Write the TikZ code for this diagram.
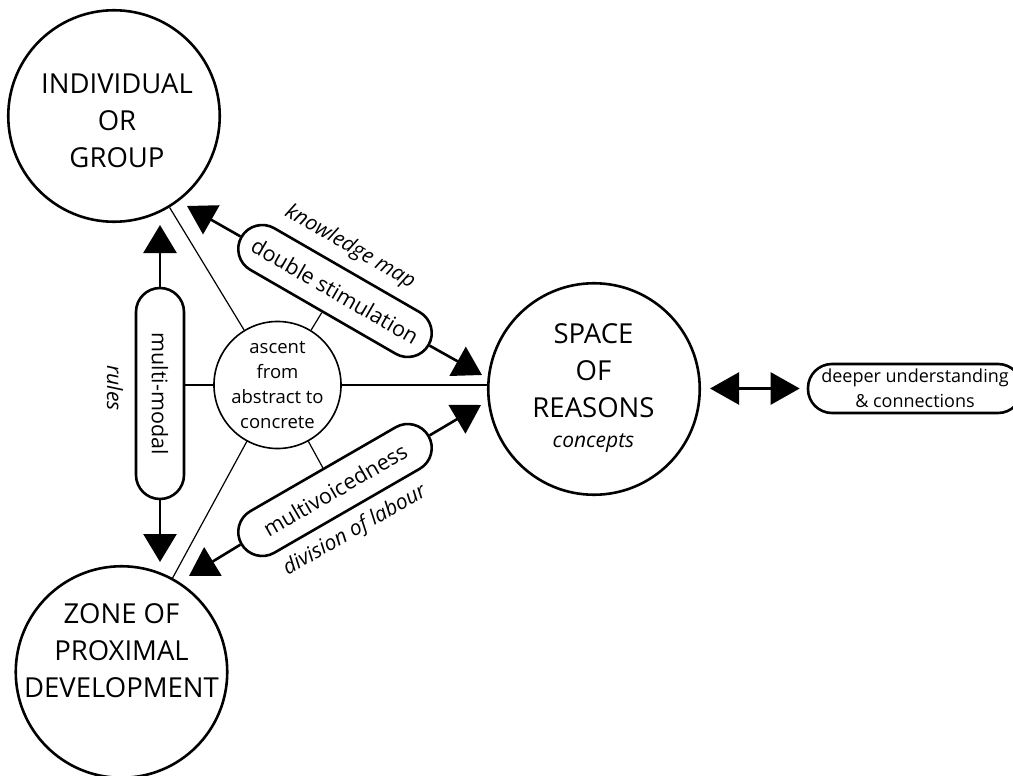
\documentclass[tikz,border=0pt]{standalone}
\usepackage{fontspec}
\setmainfont{Open Sans}
\usetikzlibrary{arrows.meta}
\begin{document}
\begin{tikzpicture}[x=1pt,y=-1pt,
  bigcircle/.style={circle, draw, line width=2.6pt, minimum size=211.5pt, inner sep=0pt},
  hubcircle/.style={circle, draw, fill=white, line width=1.6pt, minimum size=127pt,
    inner sep=0pt, align=center, font=\fontsize{18.5}{25}\selectfont},
  pill/.style={rectangle, rounded corners=24pt, draw, fill=white, line width=2.6pt,
    minimum height=48pt, inner sep=0pt, font=\fontsize{21.5}{26}\selectfont},
  bigtext/.style={align=center, inner sep=0pt, font=\fontsize{27.5}{37}\selectfont},
  note/.style={inner sep=0pt, font=\fontsize{21}{26}\selectfont\itshape},
  link/.style={line width=2.6pt, -{Triangle[length=28pt,width=33pt]}},
  spoke/.style={line width=1.2pt},
]
\useasboundingbox (0,0) rectangle (1013,776);

% the three main circles
\node[bigcircle] (tl) at (114,116) {};
\node[bigcircle] (bl) at (121.5,672) {};
\node[bigcircle] (rc) at (594,389) {};

\node[bigtext] (tltext) at (117,121) {INDIVIDUAL\\OR\\GROUP};
\node[bigtext] (bltext) at (121.5,651) {ZONE OF\\PROXIMAL\\DEVELOPMENT};
\node[bigtext] (rctext) at (593.5,370.5) {SPACE\\OF\\REASONS};
\node[note, anchor=base] (concepts) at (593.5,447) {concepts};

% hub in the middle
\node[hubcircle] (cc) at (277.5,385) {ascent\\from\\abstract to\\concrete};

% mediating pills
\node[pill, rotate=-90, minimum width=211pt] (mm) at (160,393.5) {multi-modal};
\node[pill, rotate=-30, minimum width=216pt] (ds) at (335,291) {double stimulation};
\node[pill, rotate=30, minimum width=216pt] (mv) at (335,490) {multivoicedness};
\node[pill, minimum width=214pt, minimum height=49pt, align=center,
      font=\fontsize{18}{25}\selectfont] (dp) at (915,388.5)
      {deeper understanding\\\& connections};

% italic side labels
\node[note, rotate=-90] (rules) at (115,388) {rules};
\node[note, rotate=-30] (kmap) at (350,247) {knowledge map};
\node[note, rotate=30] (labour) at (355,530.5) {division of labour};

% spokes from the hub
\draw[spoke] (cc) -- (tl);
\draw[spoke] (cc) -- (bl);
\draw[spoke] (cc.east) -- (cc.east -| rc.west);
\draw[spoke] (cc.west) -- (cc.west -| mm.north);
\draw[spoke] (cc) -- (ds);
\draw[spoke] (cc) -- (mv);

% arrow tips
\coordinate (mmUp) at (160,225);
\coordinate (mmDown) at (160,562);
\coordinate (dsTL) at (187,206);
\coordinate (dsRC) at (482,375);
\coordinate (mvBL) at (189,576);
\coordinate (mvRC) at (481,405);

\draw[link] (mm.west) -- (mmUp);
\draw[link] (mm.east) -- (mmDown);
\draw[link] (ds.west) -- (dsTL);
\draw[link] (ds.east) -- (dsRC);
\draw[link] (mv.west) -- (mvBL);
\draw[link] (mv.east) -- (mvRC);

\draw[line width=2.6pt, {Triangle[length=29pt,width=32pt]}-{Triangle[length=29pt,width=32pt]},
      shorten <=9pt, shorten >=7pt] (rc.east |- dp.west) -- (dp.west);
\end{tikzpicture}
\end{document}
